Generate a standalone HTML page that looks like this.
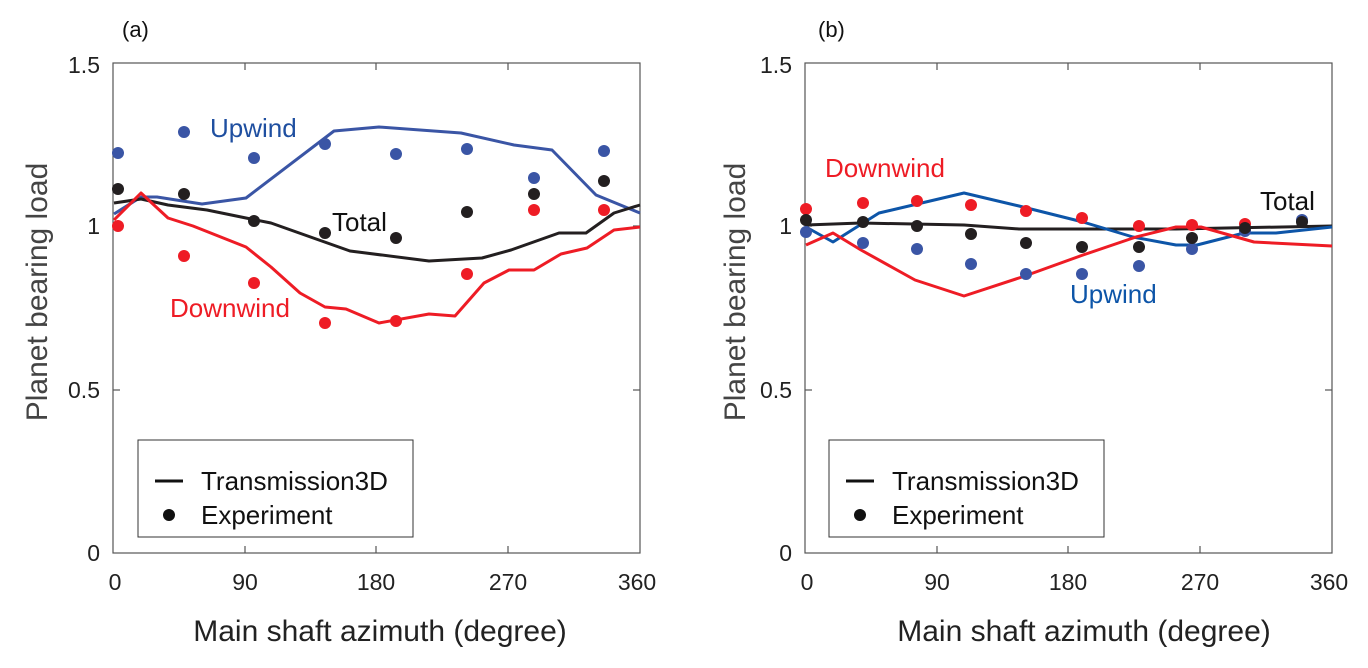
<!DOCTYPE html>
<html><head><meta charset="utf-8"><style>
body{margin:0;background:#fff}
svg text{font-family:"Liberation Sans",sans-serif}
</style></head><body>
<svg width="1368" height="663" viewBox="0 0 1368 663" xmlns="http://www.w3.org/2000/svg">
<g id="a">
<rect x="113" y="63" width="527" height="490" fill="none" stroke="#555" stroke-width="1.2"/>
<g stroke="#555" stroke-width="1.2">
<line x1="245" y1="63" x2="245" y2="70"/><line x1="376" y1="63" x2="376" y2="70"/><line x1="508" y1="63" x2="508" y2="70"/>
<line x1="245" y1="553" x2="245" y2="546"/><line x1="376" y1="553" x2="376" y2="546"/><line x1="508" y1="553" x2="508" y2="546"/>
<line x1="113" y1="390" x2="120" y2="390"/><line x1="113" y1="226" x2="120" y2="226"/>
<line x1="640" y1="390" x2="633" y2="390"/><line x1="640" y1="226" x2="633" y2="226"/>
</g>
<g font-size="23" fill="#222" text-anchor="middle">
<text x="115" y="590">0</text><text x="245" y="590">90</text><text x="376" y="590">180</text><text x="508" y="590">270</text><text x="637" y="590">360</text>
</g>
<g font-size="23" fill="#222" text-anchor="end">
<text x="100" y="561">0</text><text x="100" y="398">0.5</text><text x="100" y="234">1</text><text x="100" y="73">1.5</text>
</g>
<text x="380" y="641" font-size="30" fill="#222" text-anchor="middle">Main shaft azimuth (degree)</text>
<text transform="translate(47,292) rotate(-90)" font-size="30" fill="#444" text-anchor="middle">Planet bearing load</text>
<text x="122" y="37" font-size="22" fill="#111">(a)</text>
<g fill="none" stroke-width="3" stroke-linejoin="round">
<polyline stroke="#3a55a5" points="114,214 141,197 157,197 202,204 246,198 334,131 379,127 461,133 514,145 552,150 596,195 640,213"/>
<polyline stroke="#231f20" points="114,203 141,199 168,205 207,210 246,218 271,223 350,251 429,261 482,258 511,250 559,233 586,233 614,213 640,205"/>
<polyline stroke="#ee1c25" points="114,220 141,193 168,218 193,226 246,247 271,267 300,293 325,307 346,309 379,323 429,314 455,316 484,283 509,270 534,270 561,254 587,248 614,230 640,227"/>
</g>
<g fill="#3a55a5"><circle cx="118" cy="153" r="6"/><circle cx="184" cy="132" r="6"/><circle cx="254" cy="158" r="6"/><circle cx="325" cy="144" r="6"/><circle cx="396" cy="154" r="6"/><circle cx="467" cy="149" r="6"/><circle cx="534" cy="178" r="6"/><circle cx="604" cy="151" r="6"/></g>
<g fill="#231f20"><circle cx="118" cy="189" r="6"/><circle cx="184" cy="194" r="6"/><circle cx="254" cy="221" r="6"/><circle cx="325" cy="233" r="6"/><circle cx="396" cy="238" r="6"/><circle cx="467" cy="212" r="6"/><circle cx="534" cy="194" r="6"/><circle cx="604" cy="181" r="6"/></g>
<g fill="#ee1c25"><circle cx="118" cy="226" r="6"/><circle cx="184" cy="256" r="6"/><circle cx="254" cy="283" r="6"/><circle cx="325" cy="323" r="6"/><circle cx="396" cy="321" r="6"/><circle cx="467" cy="274" r="6"/><circle cx="534" cy="210" r="6"/><circle cx="604" cy="210" r="6"/></g>
<text x="210" y="137" font-size="26" fill="#1f4fa0">Upwind</text>
<text x="332" y="231" font-size="26" fill="#111">Total</text>
<text x="170" y="317" font-size="26" fill="#ee1c25">Downwind</text>
<rect x="138" y="440" width="275" height="97" fill="#fff" stroke="#333" stroke-width="1"/>
<line x1="155" y1="481" x2="183" y2="481" stroke="#111" stroke-width="3"/>
<circle cx="169" cy="515" r="6" fill="#111"/>
<text x="201" y="490" font-size="26" fill="#111">Transmission3D</text>
<text x="201" y="524" font-size="26" fill="#111">Experiment</text>
</g>
<g id="b">
<rect x="805" y="63" width="527" height="490" fill="none" stroke="#555" stroke-width="1.2"/>
<g stroke="#555" stroke-width="1.2">
<line x1="937" y1="63" x2="937" y2="70"/><line x1="1068" y1="63" x2="1068" y2="70"/><line x1="1200" y1="63" x2="1200" y2="70"/>
<line x1="937" y1="553" x2="937" y2="546"/><line x1="1068" y1="553" x2="1068" y2="546"/><line x1="1200" y1="553" x2="1200" y2="546"/>
<line x1="805" y1="390" x2="812" y2="390"/><line x1="805" y1="226" x2="812" y2="226"/>
<line x1="1332" y1="390" x2="1325" y2="390"/><line x1="1332" y1="226" x2="1325" y2="226"/>
</g>
<g font-size="23" fill="#222" text-anchor="middle">
<text x="807" y="590">0</text><text x="937" y="590">90</text><text x="1068" y="590">180</text><text x="1200" y="590">270</text><text x="1329" y="590">360</text>
</g>
<g font-size="23" fill="#222" text-anchor="end">
<text x="792" y="561">0</text><text x="792" y="398">0.5</text><text x="792" y="234">1</text><text x="792" y="73">1.5</text>
</g>
<text x="1084" y="641" font-size="30" fill="#222" text-anchor="middle">Main shaft azimuth (degree)</text>
<text transform="translate(745,292) rotate(-90)" font-size="30" fill="#444" text-anchor="middle">Planet bearing load</text>
<text x="818" y="37" font-size="22" fill="#111">(b)</text>
<g fill="none" stroke-width="3" stroke-linejoin="round">
<polyline stroke="#231f20" points="806,225 861,223 964,225 1019,229 1176,229 1332,226"/>
<polyline stroke="#0d55a8" points="806,227 833,242 879,213 964,193 1019,206 1083,222 1133,237 1176,245 1197,245 1244,233 1276,233 1332,227"/>
<polyline stroke="#ee1c25" points="806,245 833,233 861,250 915,280 964,296 1022,277 1083,255 1136,237 1176,227 1201,227 1254,242 1332,246"/>
</g>
<g fill="#ee1c25"><circle cx="806" cy="209" r="6"/><circle cx="863" cy="203" r="6"/><circle cx="917" cy="201" r="6"/><circle cx="971" cy="205" r="6"/><circle cx="1026" cy="211" r="6"/><circle cx="1082" cy="218" r="6"/><circle cx="1139" cy="226" r="6"/><circle cx="1192" cy="225" r="6"/><circle cx="1245" cy="224" r="6"/></g>
<g fill="#3a55a5"><circle cx="806" cy="232" r="6"/><circle cx="863" cy="243" r="6"/><circle cx="917" cy="249" r="6"/><circle cx="971" cy="264" r="6"/><circle cx="1026" cy="274" r="6"/><circle cx="1082" cy="274" r="6"/><circle cx="1139" cy="266" r="6"/><circle cx="1192" cy="249" r="6"/><circle cx="1245" cy="231" r="6"/><circle cx="1302" cy="220" r="6"/></g>
<g fill="#231f20"><circle cx="806" cy="220" r="6"/><circle cx="863" cy="222" r="6"/><circle cx="917" cy="226" r="6"/><circle cx="971" cy="234" r="6"/><circle cx="1026" cy="243" r="6"/><circle cx="1082" cy="247" r="6"/><circle cx="1139" cy="247" r="6"/><circle cx="1192" cy="238" r="6"/><circle cx="1245" cy="228" r="6"/><circle cx="1302" cy="222" r="6"/></g>
<text x="825" y="177" font-size="26" fill="#ee1c25">Downwind</text>
<text x="1260" y="210" font-size="26" fill="#111">Total</text>
<text x="1070" y="303" font-size="26" fill="#0d55a8">Upwind</text>
<rect x="829" y="440" width="275" height="97" fill="#fff" stroke="#333" stroke-width="1"/>
<line x1="846" y1="481" x2="874" y2="481" stroke="#111" stroke-width="3"/>
<circle cx="860" cy="515" r="6" fill="#111"/>
<text x="892" y="490" font-size="26" fill="#111">Transmission3D</text>
<text x="892" y="524" font-size="26" fill="#111">Experiment</text>
</g>
</svg>
</body></html>
